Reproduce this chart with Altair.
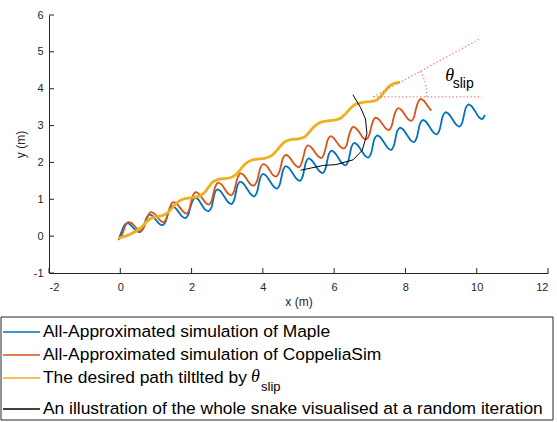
import altair as alt
import pandas as pd

# ---------------- data ----------------
maple_x = [-0.02,0.04,0.10,0.17,0.26,0.36,0.46,0.55, 0.62,0.68,0.74,0.81,0.90,1.00,1.10,1.19,
           1.26,1.32,1.38,1.45,1.54,1.64,1.74,1.83, 1.90,1.96,2.02,2.09,2.18,2.28,2.38,2.48,
           2.55,2.60,2.65,2.72,2.81,2.92,3.03,3.12, 3.19,3.24,3.29,3.36,3.45,3.56,3.67,3.76,
           3.83,3.88,3.93,4.00,4.09,4.20,4.31,4.40, 4.47,4.52,4.57,4.64,4.73,4.84,4.95,5.04,
           5.11,5.16,5.21,5.28,5.37,5.48,5.59,5.68, 5.75,5.80,5.85,5.92,6.01,6.12,6.23,6.32,
           6.39,6.44,6.49,6.56,6.65,6.76,6.87,6.96, 7.03,7.08,7.13,7.20,7.29,7.40,7.51,7.60,
           7.67,7.72,7.77,7.84,7.93,8.04,8.15,8.24, 8.31,8.36,8.41,8.48,8.57,8.68,8.79,8.88,
           8.95,9.00,9.05,9.12,9.21,9.32,9.43,9.52, 9.59,9.64,9.69,9.76,9.85,9.96,10.07,10.16,
           10.22]
maple_y = [-0.02,0.13,0.27,0.35,0.33,0.23,0.14,0.11, 0.18,0.34,0.50,0.58,0.55,0.44,0.33,0.30,
           0.37,0.55,0.72,0.81,0.77,0.65,0.53,0.49, 0.57,0.76,0.94,1.04,1.00,0.86,0.72,0.68,
           0.76,0.96,1.17,1.27,1.22,1.07,0.92,0.87, 0.97,1.17,1.38,1.48,1.43,1.28,1.13,1.08,
           1.18,1.38,1.59,1.69,1.64,1.49,1.34,1.29, 1.39,1.59,1.80,1.90,1.85,1.70,1.55,1.50,
           1.60,1.80,2.01,2.11,2.06,1.91,1.76,1.71, 1.81,2.01,2.22,2.32,2.27,2.12,1.97,1.92,
           2.02,2.22,2.43,2.53,2.48,2.33,2.18,2.13, 2.23,2.43,2.64,2.73,2.69,2.54,2.39,2.34,
           2.44,2.64,2.85,2.94,2.90,2.75,2.60,2.55, 2.65,2.85,3.05,3.15,3.11,2.96,2.81,2.76,
           2.86,3.06,3.26,3.36,3.32,3.17,3.02,2.97, 3.07,3.27,3.47,3.57,3.53,3.38,3.22,3.18,
           3.27]

copp_x = [-0.04,0.03,0.09,0.15,0.22,0.31,0.40,0.50, 0.59,0.66,0.72,0.78,0.85,0.94,1.04,1.13,
          1.22,1.29,1.35,1.41,1.48,1.57,1.67,1.77, 1.86,1.93,1.98,2.04,2.10,2.19,2.30,2.40,
          2.49,2.56,2.61,2.67,2.74,2.83,2.93,3.03, 3.12,3.19,3.24,3.30,3.37,3.46,3.56,3.66,
          3.75,3.82,3.88,3.93,4.00,4.09,4.19,4.29, 4.38,4.45,4.51,4.56,4.63,4.72,4.82,4.93,
          5.02,5.08,5.14,5.19,5.26,5.35,5.45,5.56, 5.65,5.71,5.77,5.82,5.89,5.98,6.08,6.19,
          6.28,6.35,6.40,6.46,6.52,6.61,6.72,6.82, 6.91,6.98,7.03,7.09,7.15,7.24,7.35,7.45,
          7.54,7.61,7.66,7.72,7.79,7.88,7.98,8.08, 8.17,8.24,8.29,8.35,8.42,8.51,8.61,8.71]
copp_y = [-0.09,-0.01,0.14,0.30,0.38,0.36,0.27,0.18, 0.14,0.23,0.40,0.56,0.65,0.62,0.52,0.42,
          0.38,0.47,0.65,0.83,0.92,0.89,0.78,0.66, 0.61,0.71,0.90,1.10,1.19,1.16,1.03,0.90,
          0.86,0.96,1.15,1.35,1.45,1.41,1.28,1.15, 1.11,1.21,1.41,1.60,1.70,1.66,1.53,1.40,
          1.37,1.46,1.66,1.85,1.95,1.92,1.79,1.65, 1.62,1.72,1.91,2.11,2.20,2.17,2.04,1.91,
          1.87,1.97,2.16,2.36,2.46,2.42,2.29,2.16, 2.12,2.22,2.42,2.61,2.71,2.67,2.54,2.41,
          2.38,2.47,2.67,2.86,2.96,2.93,2.80,2.66, 2.63,2.73,2.92,3.12,3.21,3.18,3.05,2.92,
          2.88,2.98,3.17,3.37,3.47,3.43,3.30,3.17, 3.13,3.23,3.43,3.62,3.72,3.68,3.55,3.42]

path_x = [-0.03,0.15,0.32,0.48,0.62,0.75,0.88,1.02,1.18,1.32,1.45,1.58,1.72,1.88,2.05,2.22,
          2.35,2.47,2.60,2.75,2.92,3.10,3.25,3.38,3.52,3.67,3.85,4.05,4.22,4.37,4.50,4.63,
          4.80,5.00,5.17,5.30,5.45,5.60,5.78,6.00,6.18,6.32,6.46,6.60,6.80,7.00,7.17,7.30,
          7.42,7.55,7.68,7.82]
path_y = [-0.05,0.00,0.07,0.16,0.27,0.40,0.49,0.53,0.56,0.63,0.76,0.90,0.99,1.03,1.05,1.09,
          1.17,1.32,1.47,1.54,1.56,1.59,1.67,1.82,1.97,2.06,2.09,2.11,2.17,2.30,2.45,2.57,
          2.62,2.64,2.69,2.82,2.98,3.08,3.12,3.15,3.20,3.32,3.47,3.58,3.63,3.65,3.68,3.78,
          3.93,4.07,4.14,4.17]

snake_x = [5.07, 5.70, 6.05, 6.53, 6.79, 6.92, 6.88, 6.74, 6.53]
snake_y = [1.79, 1.92, 1.94, 2.07, 2.33, 2.78, 3.18, 3.49, 3.83]

slip_h_x = [7.10, 10.14]
slip_h_y = [3.78, 3.78]
slip_d_x = [7.10, 10.12]
slip_d_y = [3.78, 5.37]
slip_arc_x = [8.43, 8.51, 8.56, 8.59, 8.60]
slip_arc_y = [4.47, 4.29, 4.12, 3.94, 3.78]

x_ticks = [-2, 0, 2, 4, 6, 8, 10, 12]
y_ticks = [-1, 0, 1, 2, 3, 4, 5, 6]

legend_labels = [
    "All-Approximated simulation of Maple",
    "All-Approximated simulation of CoppeliaSim",
    "The desired path tiltlted by ",
    "An illustration of the whole snake visualised at a random iteration",
]
series_colors = ["#0072BD", "#D95319", "#EDB120", "#000000"]

# ---------------- chart ----------------
W, H = 499, 258
FONT = "Liberation Sans"
AX = "#262626"

xs = alt.Scale(domain=[-2, 12], nice=False, zero=False)
ys = alt.Scale(domain=[-1, 6], nice=False, zero=False)
xaxis = alt.Axis(values=x_ticks, ticks=False, grid=False, labelFont=FONT, labelFontSize=11,
                 labelColor=AX, labelPadding=8, labelExpr="'' + datum.value",
                 title="x (m)", titleFont=FONT, titleFontSize=12, titleFontWeight="normal",
                 titleColor=AX, titlePadding=4, domainColor=AX, domainWidth=1)
yaxis = alt.Axis(values=y_ticks, ticks=False, grid=False, labelFont=FONT, labelFontSize=11,
                 labelColor=AX, labelPadding=6, labelExpr="'' + datum.value",
                 title="y (m)", titleFont=FONT, titleFontSize=12, titleFontWeight="normal",
                 titleColor=AX, titlePadding=6, domainColor=AX, domainWidth=1)


def X(f):
    return alt.X(f, type="quantitative", scale=xs, axis=xaxis)


def Y(f):
    return alt.Y(f, type="quantitative", scale=ys, axis=yaxis)


def series(xv, yv):
    return pd.DataFrame({"x": xv, "y": yv, "o": list(range(len(xv)))})


def curve(df, color, width, interp):
    return alt.Chart(df).mark_line(color=color, strokeWidth=width, interpolate=interp,
                                   strokeCap="round", strokeJoin="round").encode(
        x=X("x"), y=Y("y"), order=alt.Order("o:Q"))


blue = curve(series(maple_x, maple_y), series_colors[0], 1.8, "catmull-rom")
red = curve(series(copp_x, copp_y), series_colors[1], 1.8, "catmull-rom")
yellow = curve(series(path_x, path_y), series_colors[2], 2.8, "catmull-rom")
black = curve(series(snake_x, snake_y), series_colors[3], 1.0, "linear")

dots_df = pd.concat([
    series(slip_h_x, slip_h_y).assign(seg="h"),
    series(slip_d_x, slip_d_y).assign(seg="d"),
    series(slip_arc_x, slip_arc_y).assign(seg="a"),
])
dots = alt.Chart(dots_df).mark_line(color="#ff5050", strokeWidth=1.2, strokeDash=[1.2, 2.4],
                                    interpolate="monotone", opacity=0.85).encode(
    x=X("x"), y=Y("y"), detail="seg:N", order=alt.Order("o:Q"))

theta_txt = alt.Chart(pd.DataFrame({"x": [9.24], "y": [4.35], "t": ["θ"]})).mark_text(
    font="Liberation Serif", fontStyle="italic", fontSize=18, align="center",
    baseline="middle", color="black").encode(x=X("x"), y=Y("y"), text="t:N")
slip_txt = alt.Chart(pd.DataFrame({"x": [9.62], "y": [4.02], "t": ["slip"]})).mark_text(
    font=FONT, fontSize=14, align="center", baseline="alphabetic", color="black").encode(
    x=X("x"), y=Y("y"), text="t:N")

xt = alt.Chart(pd.DataFrame({"v": x_ticks})).mark_rule(color=AX, strokeWidth=1).encode(
    x=X("v"), y=alt.value(H), y2=alt.value(H - 5))
yt = alt.Chart(pd.DataFrame({"v": y_ticks})).mark_rule(color=AX, strokeWidth=1).encode(
    y=Y("v"), x=alt.value(0), x2=alt.value(5))

# ---------------- legend (below the axes) ----------------
one = pd.DataFrame({"k": [0]})
leg_box = alt.Chart(one).mark_rect(fill="white", stroke=AX, strokeWidth=1).encode(
    x=alt.value(-48), x2=alt.value(504), y=alt.value(302), y2=alt.value(405))
leg_rows = [317, 340, 363, 394]
leg_layers = [leg_box]
for i, lab in enumerate(legend_labels):
    yy = leg_rows[i]
    leg_layers.append(alt.Chart(one).mark_rule(color=series_colors[i], strokeWidth=1.3).encode(
        x=alt.value(-46), x2=alt.value(-9), y=alt.value(yy)))
    leg_layers.append(alt.Chart(pd.DataFrame({"t": [lab]})).mark_text(
        font=FONT, fontSize=17.4, align="left", baseline="middle", color="black").encode(
        x=alt.value(-6), y=alt.value(yy), text="t:N"))
leg_layers.append(alt.Chart(pd.DataFrame({"t": ["θ"]})).mark_text(
    font="Liberation Serif", fontStyle="italic", fontSize=18, align="left", baseline="middle",
    color="black").encode(x=alt.value(202), y=alt.value(leg_rows[2] - 1), text="t:N"))
leg_layers.append(alt.Chart(pd.DataFrame({"t": ["slip"]})).mark_text(
    font=FONT, fontSize=13, align="left", baseline="alphabetic", color="black").encode(
    x=alt.value(212), y=alt.value(leg_rows[2] + 13), text="t:N"))

chart = alt.layer(blue, red, yellow, black, dots, theta_txt, slip_txt, xt, yt, *leg_layers).properties(
    width=W, height=H,
    padding={"left": 49, "top": 15, "right": 9, "bottom": 149},
    autosize=alt.AutoSizeParams(type="none"),
    background="white",
).configure_view(strokeWidth=0)

chart.save("out.html", embed_options={"renderer": "svg", "actions": False})
